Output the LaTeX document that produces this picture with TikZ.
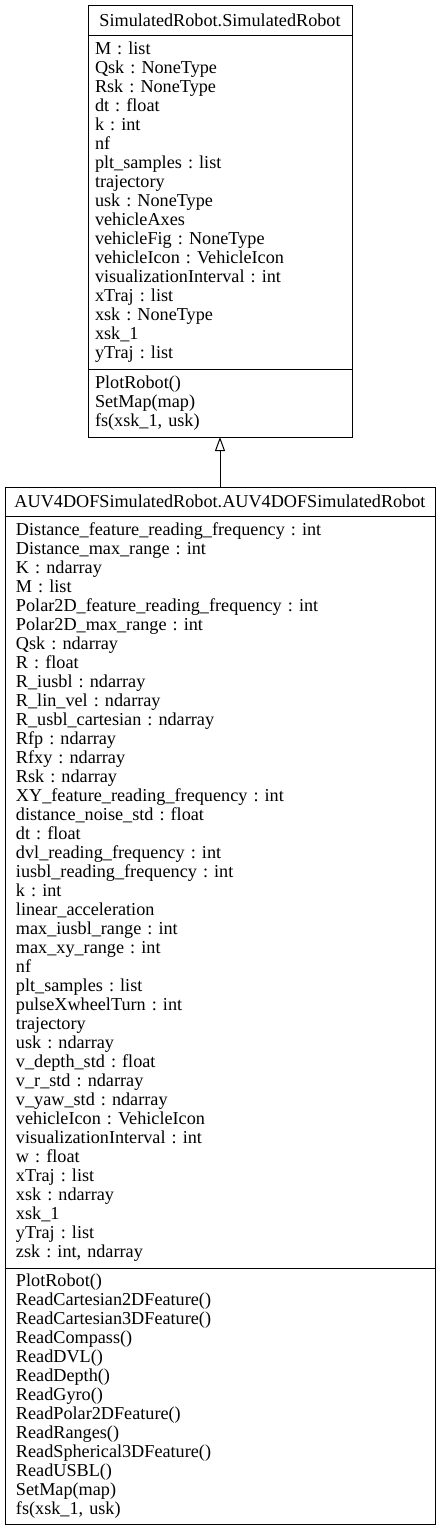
\documentclass[tikz,border=0pt]{standalone}
\usepackage{fontspec}
\setmainfont{Liberation Serif}
\frenchspacing
\usetikzlibrary{arrows.meta, positioning}
\tikzset{%
	classhead/.style={draw, rectangle, line width=1pt, inner sep=0pt, outer sep=0pt,%
		font=\fontsize{18.2}{19}\selectfont},
	members/.style={draw, rectangle, line width=1pt, align=left, inner ysep=0pt,%
		outer sep=0pt, font=\fontsize{18.2}{19}\selectfont},
	inherit/.style={-{Triangle[open, length=14pt, width=10pt]}, line width=1pt}
}
\begin{document}
\begin{tikzpicture}[x=1pt, y=1pt]
	\useasboundingbox (0,0) rectangle (441,-1531);

	% parent class
	\node[classhead, minimum width=264pt, minimum height=30pt] (sr-head) at (220,-20)
		{SimulatedRobot.SimulatedRobot};
	\node[members, below=0pt of sr-head, inner xsep=7pt, text width=250pt,
		minimum height=334pt] (sr-attr) {M : list\\ Qsk : NoneType\\ Rsk : NoneType\\
		dt : float\\ k : int\\ nf\\ plt\_samples : list\\ trajectory\\ usk : NoneType\\
		vehicleAxes\\ vehicleFig : NoneType\\ vehicleIcon : VehicleIcon\\
		visualizationInterval : int\\ xTraj : list\\ xsk : NoneType\\ xsk\_1\\
		yTraj : list};
	\node[members, below=0pt of sr-attr, inner xsep=7pt, text width=250pt,
		minimum height=68pt] (sr-meth) {PlotRobot()\\ SetMap(map)\\ fs(xsk\_1, usk)};

	% child class
	\node[classhead, below=50pt of sr-meth, minimum width=430pt, minimum height=29pt]
		(auv-head) {AUV4DOFSimulatedRobot.AUV4DOFSimulatedRobot};
	\node[members, below=0pt of auv-head, inner xsep=11pt, text width=408pt,
		minimum height=752pt] (auv-attr) {Distance\_feature\_reading\_frequency : int\\
		Distance\_max\_range : int\\ K : ndarray\\ M : list\\
		Polar2D\_feature\_reading\_frequency : int\\ Polar2D\_max\_range : int\\
		Qsk : ndarray\\ R : float\\ R\_iusbl : ndarray\\ R\_lin\_vel : ndarray\\
		R\_usbl\_cartesian : ndarray\\ Rfp : ndarray\\ Rfxy : ndarray\\ Rsk : ndarray\\
		XY\_feature\_reading\_frequency : int\\ distance\_noise\_std : float\\ dt : float\\
		dvl\_reading\_frequency : int\\ iusbl\_reading\_frequency : int\\ k : int\\
		linear\_acceleration\\ max\_iusbl\_range : int\\ max\_xy\_range : int\\ nf\\
		plt\_samples : list\\ pulseXwheelTurn : int\\ trajectory\\ usk : ndarray\\
		v\_depth\_std : float\\ v\_r\_std : ndarray\\ v\_yaw\_std : ndarray\\
		vehicleIcon : VehicleIcon\\ visualizationInterval : int\\ w : float\\
		xTraj : list\\ xsk : ndarray\\ xsk\_1\\ yTraj : list\\ zsk : int, ndarray};
	\node[members, below=0pt of auv-attr, inner xsep=11pt, text width=408pt,
		minimum height=256pt] (auv-meth) {PlotRobot()\\ ReadCartesian2DFeature()\\
		ReadCartesian3DFeature()\\ ReadCompass()\\ ReadDVL()\\ ReadDepth()\\ ReadGyro()\\
		ReadPolar2DFeature()\\ ReadRanges()\\ ReadSpherical3DFeature()\\ ReadUSBL()\\
		SetMap(map)\\ fs(xsk\_1, usk)};

	\draw[inherit] (auv-head) -- (sr-meth);
\end{tikzpicture}
\end{document}
